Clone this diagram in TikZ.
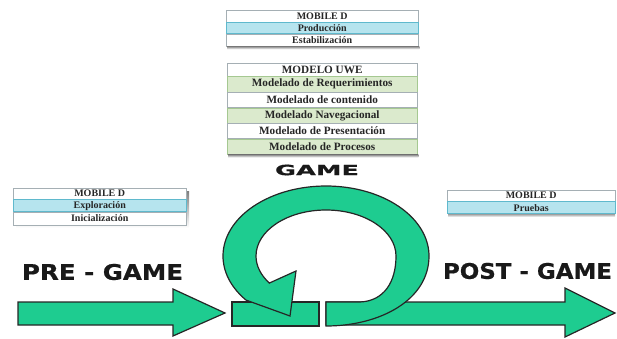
\documentclass[tikz,border=0pt]{standalone}
\usepackage{fontspec}
\usepackage{graphicx}
\setmainfont{Liberation Serif}
\newfontfamily\heavy[BoldFeatures={FakeBold=0.6}]{DejaVu Sans}

\definecolor{flow}{RGB}{30,204,144}
\definecolor{rowblue}{RGB}{182,228,238}
\definecolor{rowgreen}{RGB}{219,234,205}
\definecolor{lineblue}{RGB}{95,185,205}
\definecolor{linegreen}{RGB}{165,200,145}
\definecolor{framegray}{RGB}{165,175,180}
\definecolor{shade}{RGB}{125,125,125}

\tikzset{
  flowshape/.style={fill=flow, draw=black!85, line width=1.2pt, line join=miter},
  cell/.style={draw=framegray, line width=0.4pt, inner sep=0pt, anchor=north west,
    text=black!85, font=\bfseries\fontsize{10}{10}\selectfont},
  whitecell/.style={cell, fill=white},
  bluecell/.style={cell, fill=rowblue, draw=lineblue},
  greencell/.style={cell, fill=rowgreen, draw=linegreen},
  uwecell/.style={font=\bfseries\fontsize{11.2}{11.2}\selectfont},
  banner/.style={inner sep=0pt, text=black!90, font=\heavy\bfseries},
}

\begin{document}
\begin{tikzpicture}[x=1pt, y=-1pt]
  \useasboundingbox (0,0) rectangle (617,339);

  % ---- MOBILE D: production / stabilization ----
  \node[whitecell, minimum width=192pt, minimum height=12pt] (pa) at (226,10) {MOBILE D};
  \node[bluecell,  minimum width=192pt, minimum height=11pt] (pb) at (pa.south west) {Producción};
  \node[whitecell, minimum width=192pt, minimum height=12pt] (pc) at (pb.south west) {Estabilización};
  \fill[shade] ([xshift=1pt]pc.south west) rectangle ([xshift=1pt,yshift=-3pt]pc.south east);

  % ---- UWE model ----
  \node[whitecell, uwecell, minimum width=190pt, minimum height=13pt] (ua) at (227,63) {MODELO UWE};
  \node[greencell, uwecell, minimum width=190pt, minimum height=15.2pt] (ub) at (ua.south west) {Modelado de Requerimientos};
  \node[whitecell, uwecell, minimum width=190pt, minimum height=15.2pt] (uc) at (ub.south west) {Modelado de contenido};
  \node[greencell, uwecell, minimum width=190pt, minimum height=15.2pt] (ud) at (uc.south west) {Modelado Navegacional};
  \node[whitecell, uwecell, minimum width=190pt, minimum height=15.2pt] (ue) at (ud.south west) {Modelado de Presentación};
  \node[greencell, uwecell, minimum width=190pt, minimum height=15.2pt] (uf) at (ue.south west) {Modelado de Procesos};
  \fill[shade] ([xshift=1pt]uf.south west) rectangle ([xshift=1pt,yshift=-3pt]uf.south east);

  % ---- MOBILE D: exploration / initialization ----
  \fill[shade] (16,191) rectangle (189,228);
  \node[whitecell, minimum width=173pt, minimum height=11pt] (la) at (13,188) {MOBILE D};
  \node[bluecell,  minimum width=173pt, minimum height=12pt] (lb) at (la.south west) {Exploración};
  \node[whitecell, minimum width=173pt, minimum height=13pt] (lc) at (lb.south west) {Inicialización};

  % ---- MOBILE D: tests ----
  \fill[shade] (448,213) rectangle (615,217);
  \node[whitecell, minimum width=168pt, minimum height=11pt] (ra) at (447,190) {MOBILE D};
  \node[bluecell,  minimum width=168pt, minimum height=12pt] (rb) at (ra.south west) {Pruebas};

  % ---- phase titles ----
  \node[banner] (game) at (317,170) {\resizebox{84pt}{10.5pt}{GAME}};
  \node[banner] (pre)  at (102.5,272) {\resizebox{161pt}{16pt}{PRE - GAME}};
  \node[banner] (post) at (527.5,271) {\resizebox{169pt}{16pt}{POST - GAME}};

  % ---- process flow ----
  \coordinate (C) at (326,256);

  % block under the loop
  \draw[flowshape] (232,302) rectangle (319,326);

  % outgoing arrow
  \draw[flowshape] (326,302) -- (565,302) -- (565,288) -- (615,313)
    -- (565,337) -- (565,325) -- (326,325) -- cycle;

  % iteration loop ending in an arrowhead
  \draw[flowshape] (326,302) -- (360,302)
    .. controls (384,301) and (396,282) .. (396,256)
    arc[start angle=0, end angle=-216, x radius=70, y radius=46]
    -- (296,271) -- (290,316)
    -- ([shift={(C)}]-219:103 and 70)
    arc[start angle=-219, end angle=0, x radius=103, y radius=70]
    .. controls (429,300) and (380,326) .. (326,326)
    -- cycle;

  % incoming arrow
  \draw[flowshape] (18,302) -- (173,302) -- (173,289) -- (225,313)
    -- (173,336) -- (173,325) -- (18,325) -- cycle;
\end{tikzpicture}
\end{document}
